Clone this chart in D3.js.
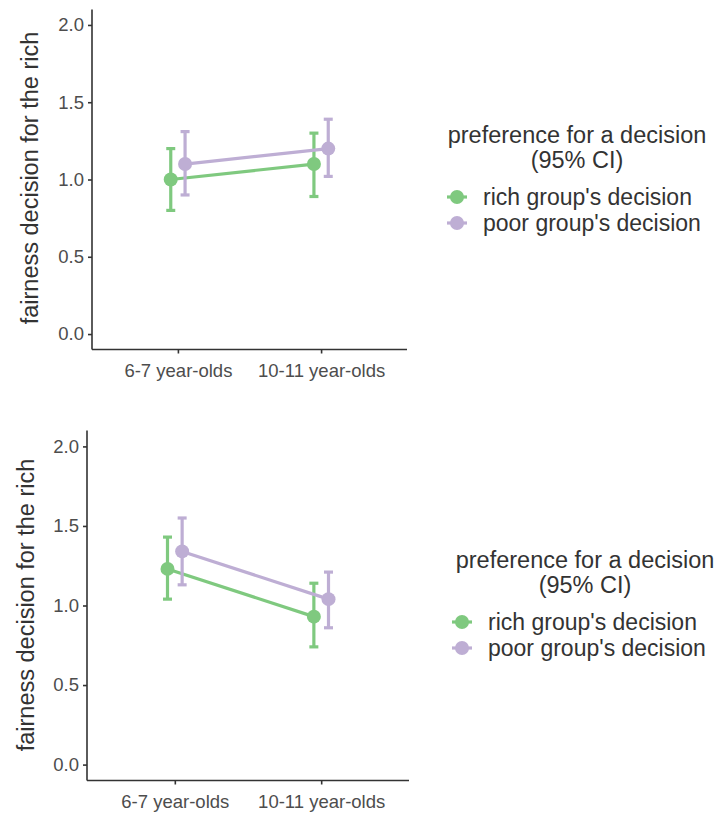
<!DOCTYPE html>
<html><head><meta charset="utf-8">
<script src="https://cdn.jsdelivr.net/npm/d3@7"></script>
<style>body{margin:0;background:#fff}svg{display:block}</style>
</head><body>
<script>
const categories = ["6-7 year-olds", "10-11 year-olds"];
const seriesNames = ["rich group's decision", "poor group's decision"];
const seriesColors = ["#7FC97F", "#BEAED4"];
const yTicks = [0, 0.5, 1.0, 1.5, 2.0];
const legendTitle = ["preference for a decision", "(95% CI)"];
const yTitle = "fairness decision for the rich";

// panel 1
const p1Rich = [1.00, 1.10];
const p1RichLo = [0.80, 0.89];
const p1RichHi = [1.20, 1.30];
const p1Poor = [1.10, 1.20];
const p1PoorLo = [0.90, 1.02];
const p1PoorHi = [1.31, 1.39];
// panel 2
const p2Rich = [1.23, 0.93];
const p2RichLo = [1.04, 0.74];
const p2RichHi = [1.43, 1.14];
const p2Poor = [1.34, 1.04];
const p2PoorLo = [1.13, 0.86];
const p2PoorHi = [1.55, 1.21];

const W = 724, H = 814;
const svg = d3.select("body").append("svg").attr("width", W).attr("height", H)
  .style("font-family", "'Liberation Sans', Arial, sans-serif");

function panel(cfg, series) {
  const g = svg.append("g");
  const x = d3.scaleLinear().domain([0.4, 2.6]).range([cfg.x0, cfg.x1]);
  const y = d3.scaleLinear().domain([-0.1, 2.1]).range([cfg.y0, cfg.y1]);
  const dodge = 0.05;

  const ya = g.append("g").attr("transform", `translate(${cfg.x0},0)`)
    .call(d3.axisLeft(y).tickValues(yTicks).tickFormat(d3.format(".1f")).tickSize(4).tickPadding(4));
  const xa = g.append("g").attr("transform", `translate(0,${cfg.y0})`)
    .call(d3.axisBottom(x).tickValues([1, 2]).tickFormat((d) => categories[d - 1]).tickSize(4).tickPadding(10));
  [ya, xa].forEach(a => {
    a.select(".domain").attr("stroke", "#333").attr("stroke-width", 1.6);
    a.selectAll(".tick line").attr("stroke", "#333").attr("stroke-width", 1.6);
    a.selectAll(".tick text").attr("fill", "#4d4d4d").style("font-size", "18.5px");
  });
  ya.select(".domain").attr("d", `M0,${cfg.y0}V${cfg.y1}`);
  xa.select(".domain").attr("d", `M${cfg.x0},0H${cfg.x1}`);

  g.append("text").attr("transform", `translate(${cfg.titleX},${cfg.titleY}) rotate(-90)`)
    .attr("text-anchor", "middle").attr("dy", "0.35em").style("font-size", "23.5px").attr("fill", "#333")
    .text(yTitle);

  series.forEach((s, si) => {
    const off = si === 0 ? -dodge : dodge;
    const pts = s.v.map((v, i) => ({ x: x(i + 1 + off), v, lo: s.lo[i], hi: s.hi[i] }));
    g.append("path").datum(pts)
      .attr("d", d3.line().x(d => d.x).y(d => y(d.v)))
      .attr("fill", "none").attr("stroke", seriesColors[si]).attr("stroke-width", 3.2);
    pts.forEach(p => {
      g.append("line").attr("x1", p.x).attr("x2", p.x).attr("y1", y(p.lo)).attr("y2", y(p.hi))
        .attr("stroke", seriesColors[si]).attr("stroke-width", 3.2);
      [p.lo, p.hi].forEach(e => g.append("line").attr("x1", p.x - 4.5).attr("x2", p.x + 4.5)
        .attr("y1", y(e)).attr("y2", y(e)).attr("stroke", seriesColors[si]).attr("stroke-width", 3.2));
      g.append("circle").attr("cx", p.x).attr("cy", y(p.v)).attr("r", 7).attr("fill", seriesColors[si]);
    });
  });

  const lg = g.append("g");
  legendTitle.forEach((t, i) => lg.append("text").attr("x", cfg.legCx).attr("y", cfg.legY + i * 25)
    .attr("text-anchor", "middle").attr("dy", "0.35em").style("font-size", "23.5px").attr("fill", "#333").text(t));
  seriesNames.forEach((n, i) => {
    const yy = cfg.legY + 62 + i * 26;
    lg.append("line").attr("x1", cfg.keyX - 10).attr("x2", cfg.keyX + 10).attr("y1", yy).attr("y2", yy)
      .attr("stroke", seriesColors[i]).attr("stroke-width", 3.2);
    lg.append("circle").attr("cx", cfg.keyX).attr("cy", yy).attr("r", 7).attr("fill", seriesColors[i]);
    lg.append("text").attr("x", cfg.keyX + 26).attr("y", yy).attr("dy", "0.35em")
      .style("font-size", "23px").attr("fill", "#333").text(n);
  });
}

panel({ x0: 92, x1: 407, y0: 349.5, y1: 9.5, titleX: 30, titleY: 178, legCx: 577, legY: 135, keyX: 457 },
  [{ v: p1Rich, lo: p1RichLo, hi: p1RichHi }, { v: p1Poor, lo: p1PoorLo, hi: p1PoorHi }]);
panel({ x0: 87, x1: 409, y0: 780.5, y1: 430.5, titleX: 26, titleY: 605, legCx: 585, legY: 560, keyX: 462 },
  [{ v: p2Rich, lo: p2RichLo, hi: p2RichHi }, { v: p2Poor, lo: p2PoorLo, hi: p2PoorHi }]);
</script>
</body></html>
